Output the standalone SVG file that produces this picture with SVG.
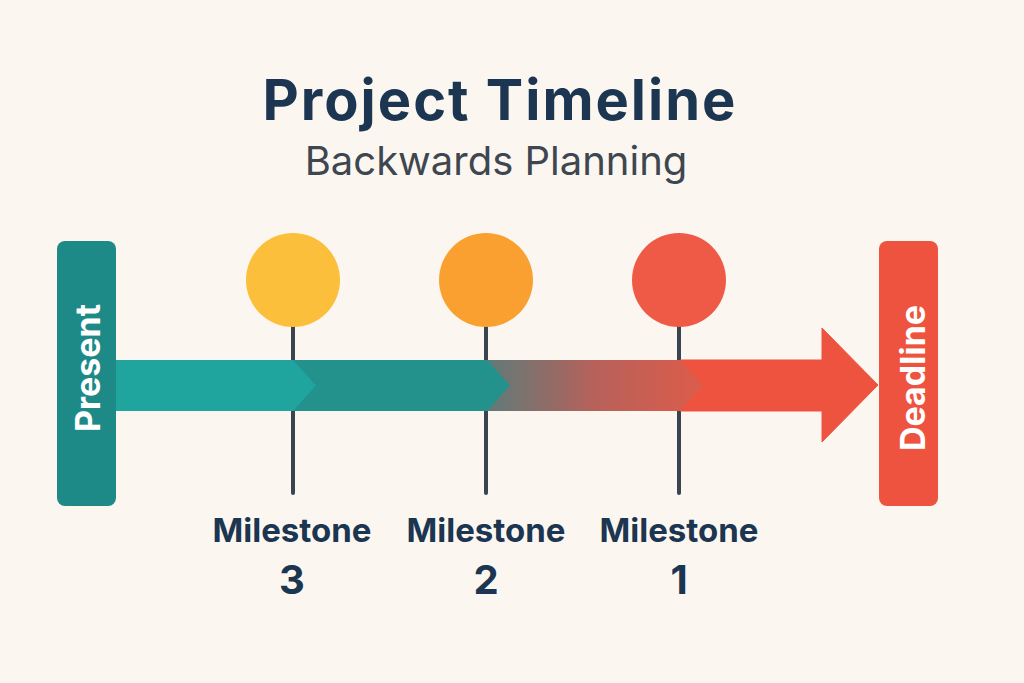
<svg xmlns="http://www.w3.org/2000/svg" width="1024" height="683" viewBox="0 0 1024 683">
<style>
.title{font-family:Inter,"Liberation Sans",sans-serif;font-weight:700;fill:#1C3550}
.sub{font-family:Inter,"Liberation Sans",sans-serif;font-weight:400;fill:#3E4650}
.lab{font-family:Inter,"Liberation Sans",sans-serif;font-weight:700;fill:#1C3550;text-anchor:middle}
.bar{font-family:Inter,"Liberation Sans",sans-serif;font-weight:700;fill:#FFFFFF;text-anchor:middle;font-size:34px}
.stem{stroke:#3A4350;stroke-width:4;stroke-linecap:round}
</style>
<defs>
<linearGradient id="g3" x1="487" y1="0" x2="703" y2="0" gradientUnits="userSpaceOnUse">
<stop offset="0" stop-color="#5F7B78"/>
<stop offset="0.5" stop-color="#B7615A"/>
<stop offset="1" stop-color="#DD5C4B"/>
</linearGradient>
</defs>
<rect width="1024" height="683" fill="#FBF7F0"/>
<g id="title">
<text class="title" x="500" y="120" font-size="56" letter-spacing="2" text-anchor="middle">Project Timeline</text>
<text class="sub" x="496" y="175" font-size="40" text-anchor="middle">Backwards Planning</text>
</g>
<g id="connectors">
<line class="stem" x1="293" y1="326" x2="293" y2="493"/>
<line class="stem" x1="486" y1="326" x2="486" y2="493"/>
<line class="stem" x1="679" y1="326" x2="679" y2="493"/>
<polygon points="680,360 822,360 822,328 878,385 822,442 822,411 680,411" fill="#EE5340" stroke="#EE5340" stroke-width="1" stroke-linejoin="round"/>
<polygon points="487,360 680,360 703,385.5 680,411 487,411" fill="url(#g3)"/>
<polygon points="293,360 487,360 510,385.5 487,411 293,411" fill="#23928D"/>
<polygon points="116,360 293,360 316,385.5 293,411 116,411" fill="#1FA59E"/>
</g>
<g id="present">
<rect x="57" y="241" width="59" height="265" rx="8" fill="#1E8A88"/>
<text class="bar" transform="translate(100,368) rotate(-90)">Present</text>
</g>
<g id="deadline">
<rect x="879" y="241" width="59" height="265" rx="8" fill="#EE5340"/>
<text class="bar" transform="translate(925,378) rotate(-90)">Deadline</text>
</g>
<g id="m3">
<circle cx="293" cy="280" r="47" fill="#FBBF3B"/>
<text class="lab" x="292" y="542" font-size="33">Milestone</text>
<text class="lab" x="292" y="594" font-size="40">3</text>
</g>
<g id="m2">
<circle cx="486" cy="280" r="47" fill="#F9A030"/>
<text class="lab" x="486" y="542" font-size="33">Milestone</text>
<text class="lab" x="486" y="594" font-size="40">2</text>
</g>
<g id="m1">
<circle cx="679" cy="280" r="47" fill="#EE5A45"/>
<text class="lab" x="679" y="542" font-size="33">Milestone</text>
<text class="lab" x="679" y="594" font-size="40">1</text>
</g>
</svg>
